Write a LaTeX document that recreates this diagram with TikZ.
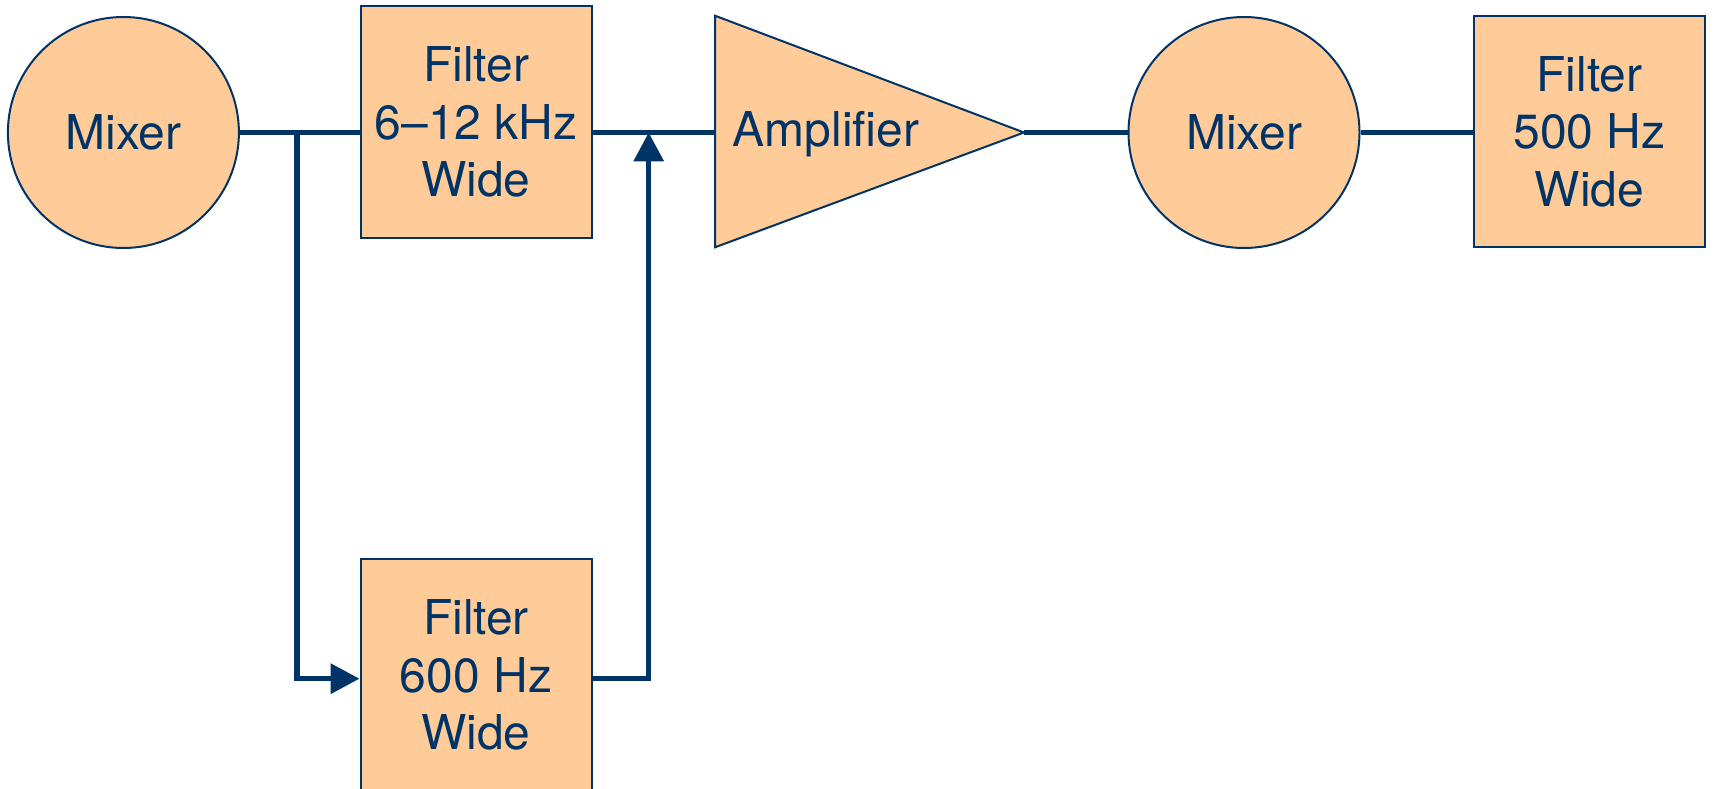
\documentclass[tikz,border=0pt]{standalone}
\usepackage{fontspec}
\setmainfont{TeX Gyre Heros}
\usetikzlibrary{arrows.meta}
\definecolor{navy}{RGB}{0,51,102}
\definecolor{peach}{RGB}{255,204,153}
\begin{document}
\begin{tikzpicture}[x=1pt,y=-1pt,
  blk/.style={draw=navy, fill=peach, line width=2pt, text=navy, align=center, inner sep=0pt,
    font=\fontsize{48}{57.5}\selectfont},
  box/.style={blk, rectangle, minimum width=231pt, minimum height=231.5pt},
  mix/.style={blk, circle, minimum size=231pt},
  lbl/.style={text=navy, inner sep=0pt, font=\fontsize{48}{57.5}\selectfont},
  wire/.style={draw=navy, line width=5.2pt},
  arr/.style={wire, -{Triangle[length=29pt,width=29.5pt]}}
]
\useasboundingbox (0,0) rectangle (1714,789);

\node[mix] (m1) at (123.4,132.5) {Mixer};
\node[box] (f1) at (476,122) {Filter\\6–12 kHz\\Wide};
\node[box] (f2) at (476,675) {Filter\\600 Hz\\Wide};
\node[mix] (m2) at (1244,132.5) {Mixer};
\node[box] (f3) at (1589.5,131.5) {Filter\\500 Hz\\Wide};

% amplifier
\coordinate (ampA) at (715,15.7);
\coordinate (ampB) at (715,247.3);
\coordinate (ampT) at (1024,132.5);
\coordinate (ampW) at (715,132.5);
\draw[draw=navy, fill=peach, line width=2pt, line join=miter] (ampA) -- (ampT) -- (ampB) -- cycle;
\node[lbl, anchor=base] (amp) at (826,147) {Amplifier};

\coordinate (j1) at (297,132.5);
\coordinate (j2) at (648.7,132.5);

\draw[wire] (m1.east) -- (f1.west |- m1.east);
\draw[wire] (f1.east |- m1.east) -- (ampW);
\draw[arr] (j1) |- ([yshift=-3.7pt]f2.west);
\draw[arr] ([yshift=-3.7pt]f2.east) -| (j2);
\draw[wire] (ampT) -- (m2.west);
\draw[wire] (m2.east) -- (f3.west |- m2.east);
\end{tikzpicture}
\end{document}
